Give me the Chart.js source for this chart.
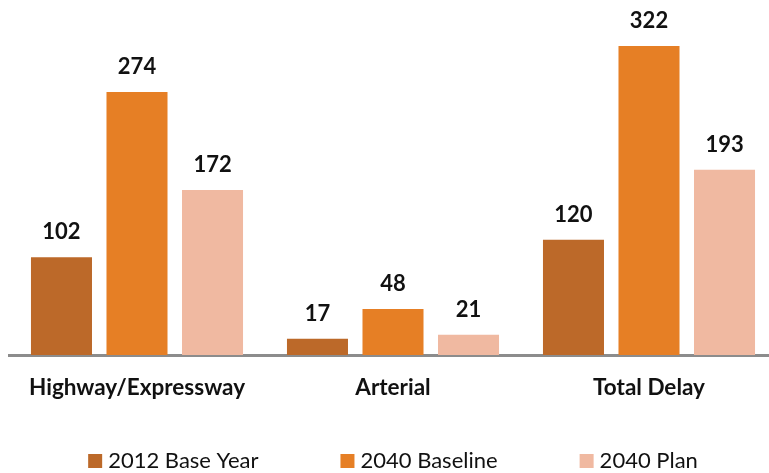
<!DOCTYPE html>
<html>
<head>
<meta charset="utf-8">
<script src="https://cdn.jsdelivr.net/npm/chart.js@4/dist/chart.umd.min.js"></script>
<style>
    html, body { margin: 0; padding: 0; background: #fff; overflow: hidden; }
    .chart-wrap { position: relative; width: 777px; height: 473px; }
</style>
</head>
<body>
<div class="chart-wrap"><canvas id="delayChart"></canvas></div>
<script>
const categories = ['Highway/Expressway', 'Arterial', 'Total Delay'];
const seriesNames = ['2012 Base Year', '2040 Baseline', '2040 Plan'];
const base2012 = [102, 17, 120];
const baseline2040 = [274, 48, 322];
const plan2040 = [172, 21, 193];

const barColors = ['#bc6929', '#e67f25', '#f0b9a1'];
const fontFamily = "Lato, 'Noto Sans', sans-serif";

// draws the value above each bar
const barValueLabels = {
    id: 'barValueLabels',
    afterDatasetsDraw(chart) {
        const ctx = chart.ctx;
        ctx.save();
        ctx.font = `bold 22px ${fontFamily}`;
        ctx.fillStyle = '#111';
        ctx.textAlign = 'center';
        ctx.textBaseline = 'middle';
        chart.data.datasets.forEach((ds, i) => {
            chart.getDatasetMeta(i).data.forEach((bar, j) => {
                ctx.fillText(ds.data[j], bar.x, bar.y - 25);
            });
        });
        ctx.restore();
    }
};

// legend row under the axis: square swatch + series name, fixed gap between items
const bottomLegend = {
    id: 'bottomLegend',
    afterDraw(chart) {
        const ctx = chart.ctx;
        const box = 14, gap = 6, spacing = 82, y = 461;
        ctx.save();
        ctx.font = `22px ${fontFamily}`;
        ctx.textBaseline = 'middle';
        const items = chart.data.datasets.map(ds => ({
            text: ds.label,
            color: ds.backgroundColor,
            width: box + gap + ctx.measureText(ds.label).width
        }));
        const total = items.reduce((s, it) => s + it.width, 0) + spacing * (items.length - 1);
        let x = (chart.chartArea.left + chart.chartArea.right) / 2 - total / 2;
        items.forEach(it => {
            ctx.fillStyle = it.color;
            ctx.fillRect(x, y - box / 2, box, box);
            ctx.fillStyle = '#111';
            ctx.fillText(it.text, x + box + gap, y);
            x += it.width + spacing;
        });
        ctx.restore();
    }
};

document.addEventListener('DOMContentLoaded', () => {
    const ctx = document.getElementById('delayChart').getContext('2d');
    const seriesValues = [base2012, baseline2040, plan2040];

    new Chart(ctx, {
        type: 'bar',
        data: {
            labels: categories,
            datasets: seriesValues.map((values, i) => ({
                label: seriesNames[i],
                data: values,
                backgroundColor: barColors[i],
                borderWidth: 0,
                categoryPercentage: 0.885,
                barPercentage: 0.808
            }))
        },
        options: {
            responsive: true,
            maintainAspectRatio: false,
            animation: false,
            layout: { padding: { left: 9, right: 0, top: 0, bottom: 53 } },
            plugins: {
                tooltip: { enabled: false },
                legend: { display: false }
            },
            scales: {
                x: {
                    grid: { display: false, drawTicks: false },
                    border: { display: true, color: '#8c8c8c', width: 3 },
                    ticks: {
                        padding: 19,
                        color: '#111',
                        font: { family: fontFamily, size: 22.5, weight: 'bold' }
                    }
                },
                y: {
                    display: false,
                    min: 0,
                    max: 370
                }
            }
        },
        plugins: [barValueLabels, bottomLegend]
    });
});
</script>
</body>
</html>
